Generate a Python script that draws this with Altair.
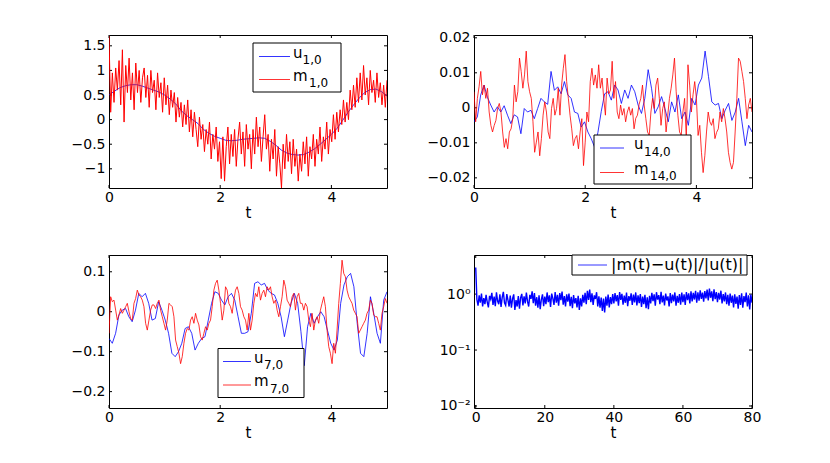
import altair as alt
import numpy as np
import pandas as pd

# ---------------- data ----------------
# panel 1 : u_{1,0} (blue) and m_{1,0} (red), t in [0,5]
u1 = [0.50, 0.58, 0.65, 0.69, 0.71, 0.71, 0.68, 0.64, 0.60, 0.56, 0.50, 0.42, 0.32,
      0.18, 0.08, 0.00, -0.08, -0.20, -0.28, -0.34, -0.38, -0.42, -0.43, -0.42, -0.40,
      -0.39, -0.38, -0.37, -0.38, -0.44, -0.52, -0.62, -0.68, -0.71, -0.72, -0.71,
      -0.66, -0.59, -0.50, -0.40, -0.30, -0.18, -0.02, 0.15, 0.30, 0.44, 0.55, 0.61,
      0.62, 0.57, 0.48]
m1 = [1.70, 0.15, 0.95, 0.35, 1.05, 0.60, 1.20, 0.30, 1.42, -0.05, 1.10, 0.55, 1.25,
      0.40, 0.95, 0.20, 1.15, 0.55, 1.00, 0.35, 0.85, 1.05, 0.45, 0.90, 0.25, 1.00,
      0.55, 0.80, 0.20, 0.95, 0.45, 0.75, 0.15, 0.85, 0.30, 0.70, 0.10, 0.60, 0.25,
      0.55, -0.05, 0.45, 0.05, 0.35, -0.15, 0.30, -0.10, 0.40, -0.25, 0.20, -0.35,
      0.15, -0.20, -0.55, 0.05, -0.40, -0.10, -0.65, -0.20, -0.50, -0.05, -0.80,
      -0.30, -0.60, -0.15, -0.85, -0.45, -1.20, -0.35, -1.25, -0.55, -0.15, -0.90,
      -0.30, -0.75, -0.20, -0.95, -0.40, -0.05, -0.70, -0.25, -0.95, -0.10, -0.60,
      -0.30, -1.00, -0.20, -0.70, 0.05, -0.55, -0.15, -0.85, -0.35, 0.10, -0.60,
      -0.30, -1.05, -0.40, -0.80, -0.20, -1.15, -0.55, -0.90, -1.39, -0.50, -1.00,
      -0.30, -0.85, -0.45, -1.10, -0.40, -0.95, -0.60, -1.25, -0.70, -1.05, -0.45,
      -0.90, -0.35, -1.15, -0.55, -0.80, -0.30, -0.95, -0.40, -0.70, -0.15, -0.85,
      -0.35, -0.60, -0.05, -0.70, -0.20, -0.45, 0.10, -0.40, 0.15, -0.25, 0.20,
      -0.10, 0.40, -0.05, 0.35, 0.00, 0.60, 0.20, 0.70, 0.25, 0.85, 0.35, 0.95, 0.40,
      1.10, 0.50, 0.85, 0.30, 1.00, 0.55, 0.80, 0.35, 0.95, 0.45, 0.75, 0.30, 0.70,
      0.25, 0.80]

# panel 2 : u_{14,0} and m_{14,0}, values in thousandths
u14_milli = [-4.0, -2.6, 3.7, 6.5, 3.0, 0.8, -1.2, 0.3, -1.2, 0.6, -2.1, -4.5, -2.0,
             -2.6, -7.4, -0.2, -1.2, -0.7, -3.1, -0.2, 2.7, 1.7, 1.0, 10.4, 5.0, 6.0,
             4.0, 7.5, 3.7, 2.7, -1.2, -1.6, -5.5, -4.0, -6.9, -8.8, -11.2, -7.0, -1.0,
             4.0,
             4.6, 2.2, 6.5, 5.1, 1.25, 5.1, 2.7, 6.5, 4.6, 0.8, -1.6, 2.7, 10.9, 5.6,
             -1.6, 0.3, 3.2, -0.2, -4.0, 1.7, -1.2, 3.7, -3.1, -1.2, -5.0, 2.7, 0.8,
             6.5, 8.5, 16.2, 9.0, 1.7, 0.8, 1.25, -3.1, -0.7, 1.25, -3.6, -1.2, 2.7,
             -4.0, -10.8, -5.0, -6.9]
m14_milli = [4.6, -4.0, 2.7, 6.0, 10.4, 3.7, 6.5, 2.7, 5.6, -1.2, -5.0, -6.9, -5.0,
             -3.6, -0.2, 1.25, -1.2, -6.9, -11.3, -8.8, -11.7, -6.9, -6.0, -3.1, 6.5,
             1.7, 4.6, 14.2, 10.4, 5.6, 9.4, 16.2, 7.5, 4.6, 2.7, -4.0, -12.7, -9.8,
             -6.9, -13.7, -8.8, -2.1, 1.7, -1.2, -6.9, -8.8, -0.2, 2.7, -2.1, -0.2, 5.6,
             -2.1, 6.5, 11.3, 15.2, 7.5, 2.7, -2.1, -6.0, -10.8, -8.8, -7.9, -11.7,
             -6.9, -3.1, -16.5, -9.8, -1.2, -4.0, 7.5, 11.3, 6.5, 9.4, 5.6, 12.3, 5.6,
             8.5, 2.7, -2.1,
             8.5, 4.0, 5.1, 13.3, 2.7, 7.5, -1.2, -3.1, 0.8, -2.1, -0.2, -4.0, -1.2,
             0.3, -2.1, -0.2, -6.0, -3.0, -2.1, 1.0, 2.7, 6.5, 0.8, -3.1, -6.9, -7.9,
             -1.2, 2.7, -0.2, 6.5, 8.5, 2.7, -5.0, -0.2, 1.7, -6.9, -2.1, 2.7, 5.6, 9.4,
             14.2, 4.6, -2.1, -6.9, -7.9, -1.2, 2.7, -8.8, 12.3, 6.5, -1.2, 3.7, 7.5,
             2.7, -7.9, -5.0, -12.7, -18.5, -13.7, -6.9, -1.2, -4.0, -5.0, -3.1, -8.8,
             -7.0, -6.0, -1.2, -4.0, -0.2, -3.1, -6.9, -12.7, -15.6, -17.5, -15.6, -6.9,
             2.7, 14.2, 13.3, 10.4, 7.5, 2.7, -3.1, 0.8, 2.7, -1.2]

# panel 3 : u_{7,0} and m_{7,0}, values in hundredths
u7_centi = [-6.7, -7.9, -5.4, -0.8, 0.4, 0.8, -1.25, -2.5, 0.4, 4.6, 3.75, 4.6, 2.1,
            -2.1, -1.7, 2.5, 0.4, -2.1, -5.4, -10.4, -11.25, -10.0, -7.9, -4.2, -3.75,
            -5.4, -9.6, -7.9, -6.7, -6.25, -2.1, 2.1, 5.0, 4.6, 2.9, 1.7, 3.75, 4.6,
            2.9, -1.25, -5.4, -5.4, -5.0,
            -0.4, 7.1, 7.5, 6.7, 7.1, 5.4, 4.6, 4.2, 2.1, -1.25, -6.25, -2.1, 2.1, 4.6,
            2.1, -5.0, -13.5, -3.75, -0.4, -2.9, -1.25, 0.0, -1.25, -4.6, -7.9, -9.6,
            -7.1, 2.1, 6.7, 8.75, 9.6, 6.25, -2.9, -10.4, -11.25, -5.4, 3.75, -0.4,
            -5.4, -7.9, 2.9, 5.0]
m7_centi = [-5.4, 3.75, 2.5, 2.9, 0.4, -2.1, -0.8, 0.8, -0.4, 0.4, 1.25, 2.1, 0.0,
            -1.7, -2.1, 2.1, 3.3, 5.4, 4.2, 3.75, 2.9, 1.25, -2.9, -4.6, -2.1, 0.4, 1.7,
            1.7, 0.8, 2.1, 2.9, 0.4, -1.25, -2.9, -4.6, -2.1, 2.1, 1.7, 1.25, -1.25,
            -7.1, -8.75, -10.4, -13.0, -11.25, -7.9, -5.4, -4.2, -4.6, -2.1, -1.25,
            -2.9, -0.4, -2.1, -3.3, -6.25, -7.1, -5.4, -3.75, -4.6, -2.9, -2.1, 1.25,
            5.4, 7.1, 7.9, 5.4, 2.1, -2.1, 0.4, 6.25, 5.4, 2.1, 1.25, -0.4, 2.9, 5.4,
            6.25, 4.6, 1.25, 0.4, -1.25, -2.1, -4.6, -0.4,
            -4.6, -2.1, 2.1, 4.6, 3.75, 6.25, 2.9, 4.6, 5.4, 3.75, 6.25, 5.4, 6.25,
            3.75, 2.1, 2.9, 0.4, -1.25, 1.25, 3.75, 7.9, 6.25, 2.9, 2.1, 1.25, 3.75,
            4.6, 0.4, 3.75, 4.6, 2.1, 2.1, 0.4, 2.1, 1.25, -2.1, -3.75, -0.4, -4.6,
            -2.1, -1.25, -2.9, 0.4, 2.1, 3.75, 1.25, -4.6, -8.75, -10.4, -13.0, -7.9,
            -10.4, -4.6, 2.1, 7.1, 12.9, 9.6, 8.75, 5.4, 3.75, 2.9, 2.1, 0.4, -0.4,
            -1.25, -5.4, -4.6, -3.75, -2.9, -2.1, -0.4, 0.4, 2.9, 2.1, -0.8, -1.25,
            -1.25, -2.9, -4.6, -0.4, 1.25, 3.3, 2.1]

# panel 4 : |m(t)-u(t)|/|u(t)|, t in [0,80]
err = [3.0, 0.80, 0.62, 0.95, 0.70, 1.02, 0.60, 0.85, 0.66, 0.97,
       0.72, 0.58, 0.93, 0.81, 1.05, 0.64, 0.90, 0.61, 1.08, 0.75,
       0.66, 0.99, 0.59, 0.87, 1.10, 0.70, 0.63, 1.00, 0.78, 0.60,
       0.94, 0.57, 0.83, 0.99, 0.52, 0.78, 0.60, 0.92, 0.55, 0.86,
       1.01, 0.63, 0.91, 0.68, 1.06, 0.74, 0.60, 0.97, 0.82, 1.12,
       0.69, 1.04, 0.62, 0.88, 0.57, 0.95, 0.54, 0.80, 0.99, 0.61,
       0.90, 0.66, 1.07, 0.72, 0.95, 0.59, 1.02, 0.84, 0.64, 1.09,
       0.70, 0.97, 0.62, 1.04, 0.78, 1.11, 0.65, 0.92, 0.60, 0.99,
       0.73, 1.02, 0.61, 0.89, 0.56, 0.96, 0.68, 0.85, 0.58, 0.93,
       0.52, 0.84, 0.60, 0.97, 0.70, 1.05, 0.66, 1.14, 0.79, 1.20,
       0.72, 1.03, 0.64, 0.95, 0.82, 1.08, 0.60, 0.91, 0.57, 0.87,
       0.50, 0.83, 0.47, 0.90, 0.62, 0.98, 0.58, 0.88, 0.66, 1.00,
       0.68, 1.04, 0.74, 0.96, 0.62, 1.09, 0.79, 1.01, 0.65, 0.94,
       0.70, 1.06, 0.61, 0.92, 0.76, 1.03, 0.64, 0.98, 0.71, 1.07,
       0.63, 0.95, 0.69, 1.00, 0.59, 0.90, 0.66, 0.97, 0.56, 0.88,
       0.54, 0.93, 0.68, 1.05, 0.75, 0.99, 0.62, 1.08, 0.80, 0.96,
       0.66, 1.10, 0.71, 0.94, 0.63, 1.02, 0.77, 0.91, 0.60, 1.04,
       0.69, 0.98, 0.74, 1.07, 0.62, 0.93, 0.70, 1.00, 0.65, 1.06,
       0.72, 0.99, 0.64, 1.09, 0.78, 1.03, 0.68, 1.12, 0.74, 1.05,
       0.80, 1.14, 0.70, 1.08, 0.76, 1.17, 0.82, 1.06, 0.73, 1.13,
       0.84, 1.20, 0.77, 1.25, 0.86, 1.12, 0.75, 1.22, 0.81, 1.09,
       0.72, 1.05, 0.80, 1.15, 0.68, 1.00, 0.74, 1.07, 0.66, 0.97,
       0.62, 1.02, 0.70, 0.94, 0.58, 0.99, 0.67, 0.90, 0.55, 0.96,
       0.64, 1.03, 0.57, 0.92, 0.72, 1.06, 0.60, 0.95, 0.53, 0.98,
       0.70]

# axis ticks
t_ticks = [0, 2, 4]
y1_ticks = [-1, -0.5, 0, 0.5, 1, 1.5]
y14_ticks = [-0.02, -0.01, 0, 0.01, 0.02]
y7_ticks = [-0.2, -0.1, 0, 0.1]
t4_ticks = [0, 20, 40, 60, 80]
y4_ticks = [0.01, 0.1, 1]

# legend texts
leg1 = [("u", "1,0"), ("m", "1,0")]
leg14 = [("u", "14,0"), ("m", "14,0")]
leg7 = [("u", "7,0"), ("m", "7,0")]
leg4 = "|m(t)\u2212u(t)|/|u(t)|"

# ---------------- styling ----------------
FONT = "DejaVu Sans"
W, H = 278, 153
BLUE, RED = "#0000ff", "#ff0000"
ONE = pd.DataFrame({"k": [0]})


def line_df(vals, t0, t1, scale=1.0):
    return pd.DataFrame({"t": np.linspace(t0, t1, len(vals)),
                         "v": np.asarray(vals, dtype=float) * scale})


def legend_layers(box, lx, rows, texts, tx, subdx, fs=15, fss=12):
    x0, y0, x1, y1 = box
    out = [alt.Chart(ONE).mark_rect(fill="white", stroke="black", strokeWidth=1).encode(
        x=alt.value(x0), x2=alt.value(x1), y=alt.value(y0), y2=alt.value(y1))]
    for (ly, color), (main, sub), sdx in zip(rows, texts, subdx):
        out.append(alt.Chart(ONE).mark_rule(color=color, strokeWidth=0.8).encode(
            x=alt.value(lx[0]), x2=alt.value(lx[1]), y=alt.value(ly)))
        out.append(alt.Chart(ONE).mark_text(font=FONT, fontSize=fs, align="left",
                                            baseline="alphabetic", color="black").encode(
            x=alt.value(tx), y=alt.value(ly + 1), text=alt.value(main)))
        out.append(alt.Chart(ONE).mark_text(font=FONT, fontSize=fss, align="left",
                                            baseline="alphabetic", color="black").encode(
            x=alt.value(tx + sdx), y=alt.value(ly + 7.5), text=alt.value(sub)))
    return out


def panel(series, xdom, ydom, xticks, yticks, legend, ylog=False, xfmt="~g"):
    xscale = alt.Scale(domain=xdom, nice=False, zero=False)
    if ylog:
        yscale = alt.Scale(type="log", domain=ydom, nice=False)
        yaxis = alt.Axis(values=yticks, title=None, labelOverlap=False,
                         labelExpr="datum.value >= 0.99 ? '10\u2070' : datum.value >= 0.099 ? '10\u207b\u00b9' : '10\u207b\u00b2'")
    else:
        yscale = alt.Scale(domain=ydom, nice=False, zero=False)
        yaxis = alt.Axis(values=yticks, title=None, format="~g", labelOverlap=False)
    xaxis = alt.Axis(values=xticks, title="t", format=xfmt, labelFlush=False, labelOverlap=False)
    X = alt.X("t:Q", scale=xscale, axis=xaxis)
    Y = alt.Y("v:Q", scale=yscale, axis=yaxis)
    xt = pd.DataFrame({"t": xticks})
    yt = pd.DataFrame({"v": yticks})
    tk = dict(color="black", strokeWidth=1)
    layers = [
        alt.Chart(xt).mark_rule(**tk).encode(x=X, y=alt.value(H), y2=alt.value(H - 3)),
        alt.Chart(xt).mark_rule(**tk).encode(x=X, y=alt.value(0), y2=alt.value(3)),
        alt.Chart(yt).mark_rule(**tk).encode(y=Y, x=alt.value(0), x2=alt.value(3)),
        alt.Chart(yt).mark_rule(**tk).encode(y=Y, x=alt.value(W - 3), x2=alt.value(W)),
    ]
    for df, color, sw in series:
        layers.append(alt.Chart(df).mark_line(color=color, strokeWidth=sw, clip=True)
                      .encode(x=X, y=Y))
    layers += legend
    return alt.layer(*layers).properties(width=W, height=H)


p1 = panel([(line_df(u1, 0, 5), BLUE, 0.8), (line_df(m1, 0, 5), RED, 1.0)],
           [0, 5], [-1.39, 1.72], t_ticks, y1_ticks,
           legend_layers((144, 8, 232, 57), (150, 181), [(21.5, BLUE), (44.5, RED)],
                         leg1, 184, [9.5, 16]))
p2 = panel([(line_df(u14_milli, 0, 5, 0.001), BLUE, 0.8),
            (line_df(m14_milli, 0, 5, 0.001), RED, 0.8)],
           [0, 5], [-0.0229, 0.0208], t_ticks, y14_ticks,
           legend_layers((120, 100, 217, 149), (126, 150), [(113, BLUE), (137.5, RED)],
                         leg14, 160, [10, 16]))
p3 = panel([(line_df(u7_centi, 0, 5, 0.01), BLUE, 0.8),
            (line_df(m7_centi, 0, 5, 0.01), RED, 0.8)],
           [0, 5], [-0.241, 0.142], t_ticks, y7_ticks,
           legend_layers((109, 93.5, 195, 142.5), (114, 142), [(106.5, BLUE), (130, RED)],
                         leg7, 145, [10, 16]))
leg_br = [alt.Chart(ONE).mark_rect(fill="white", stroke="black", strokeWidth=1).encode(
              x=alt.value(98), x2=alt.value(273), y=alt.value(0), y2=alt.value(20)),
          alt.Chart(ONE).mark_rule(color=BLUE, strokeWidth=0.8).encode(
              x=alt.value(104), x2=alt.value(133), y=alt.value(10)),
          alt.Chart(ONE).mark_text(font=FONT, fontSize=16, align="left",
                                   baseline="alphabetic", color="black").encode(
              x=alt.value(137), y=alt.value(14.5), text=alt.value(leg4))]
p4 = panel([(line_df(err, 0, 80), BLUE, 1.4)],
           [-0.5, 80], [0.0092, 5.0], t4_ticks, y4_ticks, leg_br, ylog=True, xfmt="d")

chart = (alt.concat(p1, p2, p3, p4, columns=2, bounds="flush",
                    spacing={"row": 67, "column": 87})
         .properties(padding={"left": 62, "top": 22, "right": 5, "bottom": 5},
                     background="white")
         .configure_view(stroke="black", strokeWidth=1)
         .configure_axis(labelFont=FONT, labelFontSize=14, labelColor="black",
                         titleFont=FONT, titleFontSize=15, titleFontWeight="normal",
                         titleColor="black", ticks=False, tickSize=0, domain=False,
                         grid=False, titlePadding=1)
         .configure_axisX(labelPadding=2)
         .configure_axisY(labelPadding=4))

chart.save("out.html", embed_options={"renderer": "svg", "actions": False})
